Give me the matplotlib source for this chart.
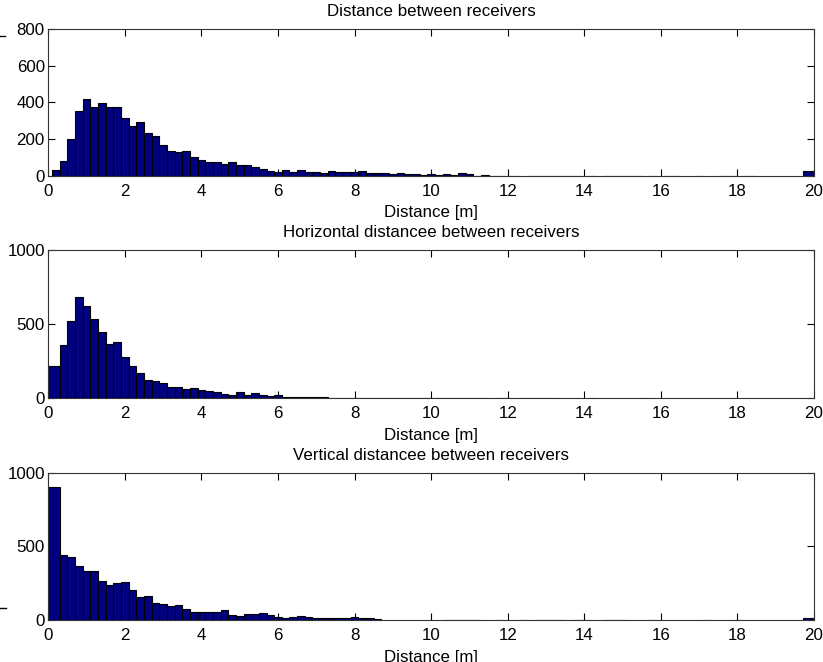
import numpy as np
import matplotlib
matplotlib.use("Agg")
import matplotlib.pyplot as plt
from matplotlib.lines import Line2D

plt.rcParams['font.family'] = ['Liberation Sans', 'DejaVu Sans']

# Histogram counts per bin (99 bins; interior edges at 0.3, 0.5, ..., 19.7)
dist_counts = (
    [31, 80, 198, 356, 418, 375, 398, 375, 375, 318, 271, 291, 233, 218, 169,
     133, 127, 133, 102, 84, 75, 75, 64, 75, 56, 56, 49]
    + [35, 28, 19, 29, 18, 29, 22, 22, 16, 24, 18, 18, 18, 25, 13, 13, 13, 9,
       13, 9, 9, 5, 11, 5, 9, 5, 15, 9, 1, 5]
    + [1, 1, 1, 1, 0, 1, 1, 1, 1, 1, 1, 1, 0, 1, 0, 1, 1, 1, 1, 1, 0, 1, 0, 1,
       1, 0, 0, 1, 0, 0, 1, 1, 0, 1, 1, 0, 0, 0, 0, 0, 0, 25]
)

horiz_counts = (
    [216, 360, 520, 680, 622, 532, 446, 367, 381, 275, 214, 171, 119, 113, 99,
     74, 74, 59, 65, 52, 47, 38, 27, 20, 38, 20, 31, 20, 13, 20]
    + [10, 4, 4, 9, 9, 8, 3]
    + [1] * 20
    + [0, 1, 1, 0, 1, 1, 1, 1, 1, 0, 0, 0, 0, 1, 0, 0, 0, 0, 0, 0, 1]
    + [0] * 21
)

vert_counts = (
    [900, 439, 430, 364, 330, 330, 267, 240, 253, 258, 206, 156, 161, 113, 106,
     95, 100, 75, 52, 52, 52, 52, 66, 36, 29, 41, 41, 48, 34, 20]
    + [14, 18, 27, 18, 11, 11, 11, 11, 11, 18, 14, 11, 9]
    + [0] * 8
    + [1, 1, 1, 1, 1, 0, 0, 1, 0, 0, 1, 0, 1, 1, 1, 1, 0, 1, 1, 0,
       0, 1, 1, 1, 0, 0, 0, 1, 0, 0, 0, 0, 0, 0, 1, 0, 0, 0, 1, 0,
       0, 0, 0, 0, 0, 0, 0, 14]
)

inner_edges = np.round(np.arange(0.3, 19.75, 0.2), 2)
dist_edges = np.r_[0.1, inner_edges, 20.0]
horiz_edges = np.r_[0.0, inner_edges, 20.0]
vert_edges = np.r_[0.0, inner_edges, 20.0]

titles = ["Distance between receivers",
          "Horizontal distancee between receivers",
          "Vertical distancee between receivers"]
xlabel = "Distance [m]"
x_ticks = list(range(0, 21, 2))
y_ticks = [[0, 200, 400, 600, 800], [0, 500, 1000], [0, 500, 1000]]
y_lims = [800, 1000, 1000]

W, H = 823, 662
fig = plt.figure(figsize=(W / 100, H / 100), dpi=100)

# axes boxes in pixels: (left, top, right, bottom)
boxes = [(48.3, 29.3, 814, 175.7), (48.3, 250, 814, 398), (48.3, 472.7, 814, 620)]

bar_color = "#000080"
axis_color = "#333333"
fs = 12.2

for box, counts, edges, title, yt, ylim in zip(
        boxes, [dist_counts, horiz_counts, vert_counts],
        [dist_edges, horiz_edges, vert_edges], titles, y_ticks, y_lims):
    l, t, r, b = box
    ax = fig.add_axes([l / W, 1 - b / H, (r - l) / W, (b - t) / H])
    counts = np.asarray(counts, dtype=float)
    lefts = edges[:-1]
    widths = np.diff(edges)
    lws = np.where(counts > 0, 0.8, 0.0)
    ax.bar(lefts, counts, width=widths, align='edge', color=bar_color,
           edgecolor='black', linewidth=lws, zorder=2)
    ax.set_xlim(0, 20)
    ax.set_ylim(0, ylim)
    ax.set_xticks(x_ticks)
    ax.set_yticks(yt)
    ax.tick_params(direction='in', length=5, width=0.8, top=True, right=True,
                   labelsize=fs, colors='black')
    ax.tick_params(axis='x', pad=6)
    ax.tick_params(axis='y', pad=2.5)
    for s in ax.spines.values():
        s.set_color(axis_color)
        s.set_linewidth(0.8)
        s.set_zorder(3)
    ax.set_title(title, fontsize=fs, pad=9.5)
    ax.set_xlabel(xlabel, fontsize=fs, labelpad=4.5)

# small stray marks at the left border
fig.add_artist(Line2D([0, 5 / W], [1 - 36 / H, 1 - 36 / H], color='black', lw=1))
fig.add_artist(Line2D([0, 6 / W], [1 - 608 / H, 1 - 608 / H], color='black', lw=1))

fig.savefig("out.png", dpi=100)
